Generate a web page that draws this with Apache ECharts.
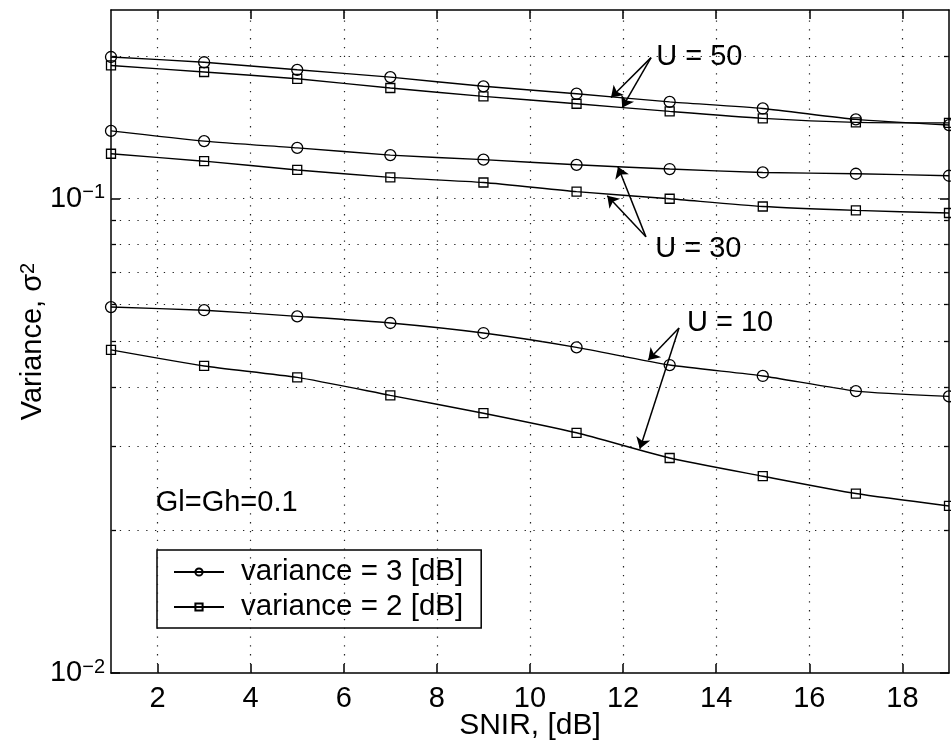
<!DOCTYPE html>
<html>
<head>
<meta charset="utf-8">
<script src="https://cdn.jsdelivr.net/npm/echarts@6/dist/echarts.min.js"></script>
<style>
  html, body { margin: 0; padding: 0; background: #fff; }
  #main { width: 951px; height: 744px; }
</style>
</head>
<body>
<div id="main"></div>
<script>
// SNIR values where the simulation points sit
const snir = [1, 3, 5, 7, 9, 11, 13, 15, 17, 19];

// variance = 3 dB (circles) and variance = 2 dB (squares) for U = 50, 30, 10
const u50_3dB = [0.199, 0.194, 0.187, 0.1805, 0.1726, 0.1665, 0.160, 0.155, 0.147, 0.143];
const u50_2dB = [0.191, 0.185, 0.179, 0.1712, 0.1644, 0.1586, 0.1528, 0.1477, 0.1449, 0.1445];
const u30_3dB = [0.139, 0.1323, 0.128, 0.1236, 0.1209, 0.1179, 0.1155, 0.1136, 0.1129, 0.1118];
const u30_2dB = [0.1244, 0.120, 0.115, 0.1109, 0.1082, 0.1035, 0.100, 0.0963, 0.0945, 0.0933];
const u10_3dB = [0.0591, 0.0582, 0.0565, 0.0547, 0.0521, 0.0486, 0.0446, 0.0423, 0.0393, 0.0383];
const u10_2dB = [0.0480, 0.0444, 0.0420, 0.0385, 0.0353, 0.0321, 0.0284, 0.0260, 0.0239, 0.0225];

const legendNames = ['variance = 3 [dB]', 'variance = 2 [dB]'];

// ticks / grid
const xTicks = [2, 4, 6, 8, 10, 12, 14, 16, 18];
const yMajor = [0.01, 0.1];
const yMinor = [0.02, 0.03, 0.04, 0.05, 0.06, 0.07, 0.08, 0.09, 0.2];

const chartDom = document.getElementById('main');
const myChart = echarts.init(chartDom);

const FONT = '"Liberation Sans", Arial, Helvetica, sans-serif';
const pair = (ys) => snir.map((x, i) => [x, ys[i]]);

function curve(name, ys, symbol) {
  return {
    name: name,
    type: 'line',
    data: pair(ys),
    smooth: 0.2,
    symbol: symbol,
    symbolSize: symbol === 'circle' ? 11 : 9,
    showAllSymbol: true,
    lineStyle: { color: '#000', width: 1.4 },
    itemStyle: { color: 'rgba(0,0,0,0)', borderColor: '#000', borderWidth: 1.3 },
    emphasis: { disabled: true },
    z: 3
  };
}

const gridLine = { color: '#222', width: 1.2, type: [1.3, 7.5] };

// arrows from the U labels down to the curves
const arrows = [
  [[12.6, 0.1984], [11.74, 0.1634]],
  [[12.6, 0.1984], [11.98, 0.1556]],
  [[12.49, 0.0831], [11.89, 0.1168]],
  [[12.49, 0.0831], [11.66, 0.1015]],
  [[13.2, 0.0534], [12.54, 0.0457]],
  [[13.2, 0.0534], [12.36, 0.0297]]
];
const notes = [
  { name: 'U = 50', coord: [12.71, 0.1993] },
  { name: 'U = 30', coord: [12.69, 0.0782] },
  { name: 'U = 10', coord: [13.37, 0.0547] },
  { name: 'Gl=Gh=0.1', coord: [1.96, 0.0228] }
];

const option = {
  backgroundColor: '#fff',
  animation: false,
  textStyle: { fontFamily: FONT, color: '#000' },
  grid: { left: 111, right: 2, top: 10, bottom: 71, show: false, outerBoundsMode: 'none', containLabel: false },
  legend: {
    data: legendNames,
    orient: 'vertical',
    left: 157,
    top: 550,
    backgroundColor: '#fff',
    borderColor: '#000',
    borderWidth: 1.5,
    borderRadius: 0,
    padding: [7, 18, 6, 16],
    itemWidth: 50,
    itemHeight: 9,
    itemGap: 5,
    selectedMode: false,
    textStyle: { fontFamily: FONT, fontSize: 29.5, lineHeight: 29, color: '#000', padding: [0, 0, 0, 12] }
  },
  xAxis: [
    {
      type: 'value', min: 1, max: 19, position: 'bottom',
      name: 'SNIR, [dB]', nameLocation: 'middle', nameGap: 38, nameMoveOverlap: false,
      nameTextStyle: { fontFamily: FONT, fontSize: 30, color: '#000' },
      axisLine: { show: true, onZero: false, lineStyle: { color: '#000', width: 1.5 } },
      axisTick: { show: true, inside: true, length: 9, customValues: xTicks, lineStyle: { color: '#000', width: 1.5 } },
      axisLabel: { show: true, margin: 11, fontSize: 29, color: '#000', fontFamily: FONT, customValues: xTicks },
      splitLine: { show: false }
    },
    {
      type: 'value', min: 1, max: 19, position: 'top',
      axisLine: { show: true, onZero: false, lineStyle: { color: '#000', width: 1.5 } },
      axisTick: { show: true, inside: true, length: 9, customValues: xTicks, lineStyle: { color: '#000', width: 1.5 } },
      axisLabel: { show: false },
      splitLine: { show: false }
    }
  ],
  yAxis: [
    {
      type: 'log', logBase: 10, min: 0.01, max: 0.25, position: 'left',
      name: 'Variance, σ{sup|2}', nameLocation: 'middle', nameGap: 64, nameMoveOverlap: false,
      nameTextStyle: {
        fontFamily: FONT, fontSize: 29, color: '#000',
        rich: { sup: { fontFamily: FONT, fontSize: 20, verticalAlign: 'top', color: '#000' } }
      },
      axisLine: { show: true, onZero: false, lineStyle: { color: '#000', width: 1.5 } },
      axisTick: { show: true, inside: true, length: 9, customValues: yMajor, lineStyle: { color: '#000', width: 1.5 } },
      axisLabel: {
        show: true, margin: 6, customValues: yMajor,
        formatter: (v) => v < 0.05 ? '10{sup|−2}' : '10{sup|−1}',
        rich: {
          sup: { fontFamily: FONT, fontSize: 20, verticalAlign: 'top', color: '#000' }
        },
        fontSize: 29, fontFamily: FONT, color: '#000', lineHeight: 32
      },
      splitLine: { show: false }
    },
    {
      type: 'log', logBase: 10, min: 0.01, max: 0.25, position: 'left',
      axisLine: { show: false },
      axisTick: { show: true, inside: true, length: 5, customValues: yMinor, lineStyle: { color: '#000', width: 1.3 } },
      axisLabel: { show: false },
      splitLine: { show: false }
    },
    {
      type: 'log', logBase: 10, min: 0.01, max: 0.25, position: 'right',
      axisLine: { show: true, onZero: false, lineStyle: { color: '#000', width: 1.5 } },
      axisTick: { show: true, inside: true, length: 9, customValues: yMajor, lineStyle: { color: '#000', width: 1.5 } },
      axisLabel: { show: false },
      splitLine: { show: false }
    },
    {
      type: 'log', logBase: 10, min: 0.01, max: 0.25, position: 'right',
      axisLine: { show: false },
      axisTick: { show: true, inside: true, length: 5, customValues: yMinor, lineStyle: { color: '#000', width: 1.3 } },
      axisLabel: { show: false },
      splitLine: { show: false }
    }
  ],
  series: [
    {
      name: 'grid',
      type: 'line',
      data: [],
      silent: true,
      z: 1,
      markLine: {
        silent: true,
        symbol: 'none',
        label: { show: false },
        lineStyle: gridLine,
        emphasis: { disabled: true },
        data: xTicks.map((v) => ({ xAxis: v }))
          .concat(yMinor.concat([0.1]).map((v) => ({ yAxis: v })))
      }
    },
    curve(legendNames[0], u50_3dB, 'circle'),
    curve(legendNames[1], u50_2dB, 'rect'),
    curve(legendNames[0], u30_3dB, 'circle'),
    curve(legendNames[1], u30_2dB, 'rect'),
    curve(legendNames[0], u10_3dB, 'circle'),
    curve(legendNames[1], u10_2dB, 'rect'),
    {
      name: 'notes',
      type: 'line',
      data: [],
      silent: true,
      z: 4,
      markLine: {
        silent: true,
        symbol: ['none', 'arrow'],
        symbolSize: 11,
        label: { show: false },
        lineStyle: { color: '#000', width: 1.5, type: 'solid' },
        emphasis: { disabled: true },
        data: arrows.map((a) => [{ coord: a[0] }, { coord: a[1] }])
      },
      markPoint: {
        silent: true,
        symbol: 'circle',
        symbolSize: 0,
        itemStyle: { color: 'rgba(0,0,0,0)' },
        label: {
          show: true, position: 'right', distance: 0,
          formatter: (p) => p.name,
          fontFamily: FONT, fontSize: 29, color: '#000'
        },
        data: notes.map((n) => ({ name: n.name, coord: n.coord }))
      }
    }
  ]
};

myChart.setOption(option);
</script>
</body>
</html>
